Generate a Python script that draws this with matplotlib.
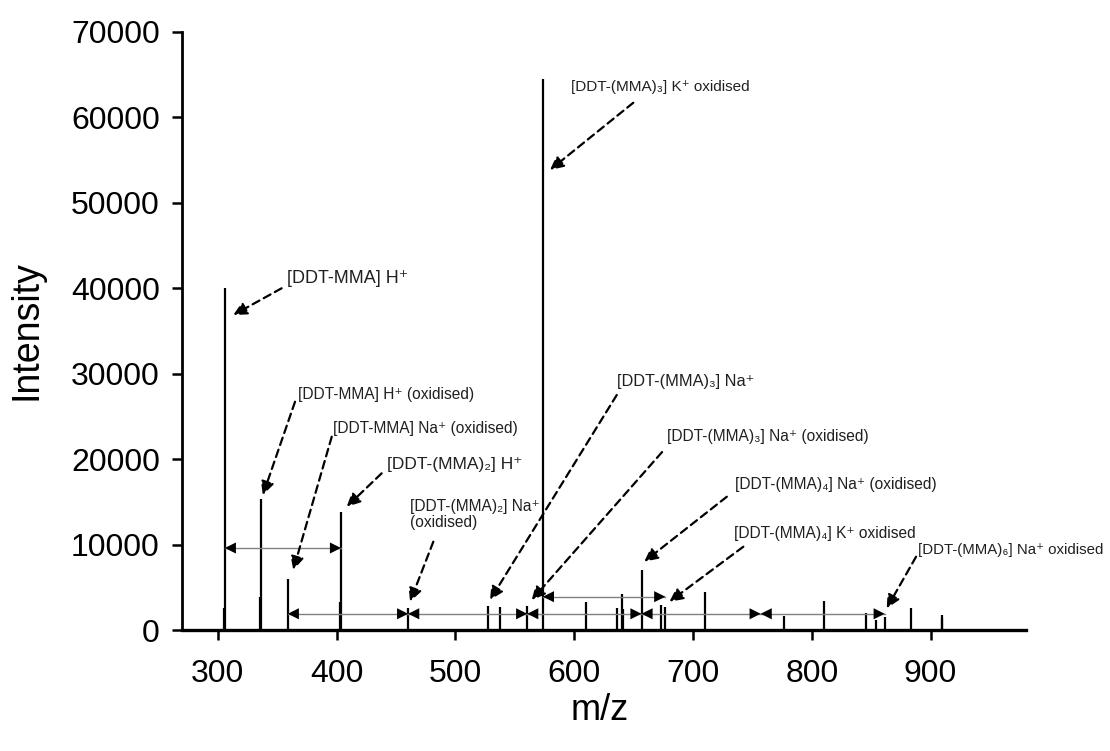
import matplotlib
matplotlib.use('Agg')
import matplotlib.pyplot as plt

plt.rcParams['font.family'] = ['Liberation Sans', 'DejaVu Sans']

# peak positions (m/z) and intensities
mz = [305.0, 306.0, 335.8, 336.3, 359.0, 403.3, 403.8, 460.3,
      527.6, 538.0, 560.5, 573.7, 609.7, 635.9, 640.0, 641.3,
      656.7, 673.0, 676.7, 710.4, 777.0, 810.3, 846.0, 853.8,
      861.4, 883.4, 909.3, 909.8]
intensity = [2600, 40000, 3900, 15300, 6000, 3300, 13800, 2600,
             2800, 2700, 2800, 64500, 3300, 2600, 4200, 2500,
             7000, 2900, 2700, 4500, 1640, 3430, 2030, 1170,
             1480, 2540, 1760, 1400]

# peak labels: text, text anchor, arrow tail, arrow head, font size
labels = [
    '[DDT-MMA] H⁺',
    '[DDT-MMA] H⁺ (oxidised)',
    '[DDT-MMA] Na⁺ (oxidised)',
    '[DDT-(MMA)₂] H⁺',
    '[DDT-(MMA)₂] Na⁺\n(oxidised)',
    '[DDT-(MMA)₃] Na⁺',
    '[DDT-(MMA)₃] Na⁺ (oxidised)',
    '[DDT-(MMA)₃] K⁺ oxidised',
    '[DDT-(MMA)₄] Na⁺ (oxidised)',
    '[DDT-(MMA)₄] K⁺ oxidised',
    '[DDT-(MMA)₆] Na⁺ oxidised',
]
label_xy = [(358.1, 41200), (367.8, 27620), (397.3, 23530), (442.3, 19430),
            (461.9, 13520), (635.9, 29060), (677.9, 22630), (597.1, 63590),
            (735.4, 17050), (734.8, 11320), (889.2, 9360)]
tails = [(353.8, 40000), (365.1, 26720), (396.0, 22630), (438.0, 18340),
         (481.5, 10340), (635.9, 27510), (674.0, 20830), (649.8, 61720),
         (728.5, 15600), (742.4, 9750), (887.8, 8580)]
heads = [(313.1, 36870), (338.0, 15800), (363.6, 7020), (408.6, 14430),
         (461.9, 3310), (529.2, 3510), (564.3, 3510), (579.7, 53850),
         (659.0, 8000), (680.2, 3310), (863.1, 2540)]
label_size = [13, 11.2, 11.2, 12.5, 11.2, 11.8, 11.2, 11, 11.2, 11.2, 10.8]

# mass spacing arrows between peaks: (start, end, height)
spacings = [(306.0, 403.8, 9600), (359.0, 460.3, 1900), (460.3, 560.5, 1900),
            (560.5, 656.7, 1900), (573.7, 676.7, 3900), (656.7, 757.0, 1900),
            (757.0, 861.4, 1900)]

fig = plt.figure(figsize=(11.1, 7.51), dpi=100)
ax = fig.add_axes([0.164, 0.1611, 0.760, 0.7963])

ax.vlines(mz, 0, intensity, color='black', linewidth=1.6)

for x0, x1, h in spacings:
    ax.plot([x0, x1], [h, h], color='#808080', linewidth=1.0)
    ax.annotate('', xy=(x1, h), xytext=(x0, h),
                arrowprops=dict(arrowstyle='<|-|>', color='black', lw=0,
                                mutation_scale=20, shrinkA=0, shrinkB=0))

for txt, pos, tail, head, fs in zip(labels, label_xy, tails, heads, label_size):
    ax.text(pos[0], pos[1], txt, fontsize=fs, ha='left', va='center',
            color='#202020', linespacing=1.1)
    ax.annotate('', xy=head, xytext=tail,
                arrowprops=dict(arrowstyle='-|>', color='black', lw=1.6,
                                linestyle=(0, (3.5, 2.2)), mutation_scale=20,
                                shrinkA=0, shrinkB=0))

ax.set_xlim(270, 980)
ax.set_ylim(0, 70000)
ax.set_xticks([300, 400, 500, 600, 700, 800, 900])
ax.set_yticks(range(0, 70001, 10000))

for side in ['top', 'right']:
    ax.spines[side].set_visible(False)
ax.spines['left'].set_linewidth(2.0)
ax.spines['bottom'].set_linewidth(2.4)
ax.tick_params(axis='x', direction='out', length=7, width=1.8, labelsize=23, pad=14)
ax.tick_params(axis='y', direction='out', length=7, width=1.8, labelsize=23, pad=9)

ax.set_xlabel('m/z', fontsize=26)
ax.set_ylabel('Intensity', fontsize=27)
ax.xaxis.set_label_coords(0.4955, -0.105)
ax.yaxis.set_label_coords(-0.163, 0.502)

plt.savefig('out.png', dpi=100)
